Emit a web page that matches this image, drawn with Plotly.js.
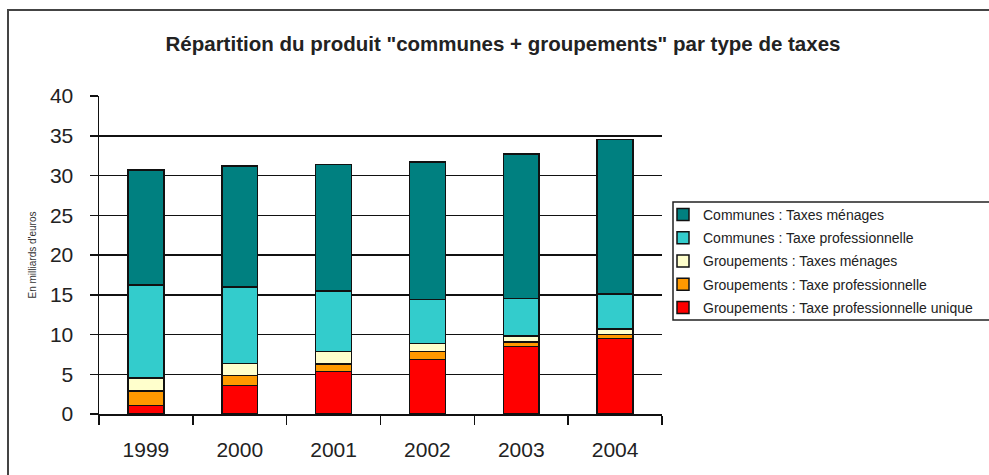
<!DOCTYPE html>
<html>
<head>
<meta charset="utf-8">
<script src="https://cdn.plot.ly/plotly-3.0.1.min.js"></script>
<style>
html,body{margin:0;padding:0;background:#fff;}
#chart{width:989px;height:475px;}
</style>
</head>
<body>
<div id="chart"></div>
<script>
// Years (categories)
var years = ["1999", "2000", "2001", "2002", "2003", "2004"];

// Series values in milliards d'euros (stack order bottom -> top)
var groupTPU = [1.1, 3.6, 5.35, 6.85, 8.5, 9.5];     // Groupements : Taxe professionnelle unique
var groupTP  = [1.8, 1.25, 0.95, 1.0, 0.55, 0.5];    // Groupements : Taxe professionnelle
var groupTM  = [1.65, 1.5, 1.55, 1.0, 0.75, 0.7];    // Groupements : Taxes ménages
var communesTP = [11.65, 9.6, 7.6, 5.55, 4.7, 4.4];  // Communes : Taxe professionnelle
var communesTM = [14.5, 15.25, 15.95, 17.3, 18.2, 19.4]; // Communes : Taxes ménages

var seriesNames = [
  "Groupements : Taxe professionnelle unique",
  "Groupements : Taxe professionnelle",
  "Groupements : Taxes ménages",
  "Communes : Taxe professionnelle",
  "Communes : Taxes ménages"
];
var seriesValues = [groupTPU, groupTP, groupTM, communesTP, communesTM];
var seriesColors = ["#FF0000", "#FF9900", "#FFFFCC", "#33CCCC", "#008080"];

var yTickVals = [0, 5, 10, 15, 20, 25, 30, 35, 40];

var traces = seriesValues.map(function (vals, i) {
  return {
    type: "bar",
    name: seriesNames[i],
    legendgroup: "g" + i,
    legendrank: seriesValues.length - i,
    x: years,
    y: vals,
    marker: { color: seriesColors[i], line: { color: "#111", width: 1.5 } },
    hoverinfo: "x+y+name"
  };
});

var L = 99, R = 662, T = 96, B = 414, W = 989, H = 475;
var pw = R - L, ph = B - T;
function px(x) { return (x - L) / pw; }
function py(y) { return (B - y) / ph; }

var layout = {
  width: W,
  height: H,
  margin: { l: L, r: W - R, t: T, b: H - B, pad: 0, autoexpand: false },
  paper_bgcolor: "#fff",
  plot_bgcolor: "#fff",
  barmode: "stack",
  bargap: 0.617,
  font: { family: "Liberation Sans, Arial, sans-serif", color: "#222" },
  title: {
    text: "Répartition du produit \"communes + groupements\" par type de taxes",
    font: { family: "Liberation Sans, Arial, sans-serif", size: 20.5, weight: "bold", color: "#222" },
    xref: "container", x: 503 / W, xanchor: "center",
    yref: "container", y: 1 - 44 / H, yanchor: "middle"
  },
  xaxis: {
    type: "category",
    showgrid: false,
    showline: true, linecolor: "#111", linewidth: 1.5,
    ticks: "outside", tickson: "boundaries", ticklen: 9, tickwidth: 1.5, tickcolor: "#111",
    tickfont: { size: 21, color: "#222" },
    ticklabelstandoff: 16,
    zeroline: false
  },
  yaxis: {
    range: [0, 40],
    tickvals: yTickVals,
    ticktext: yTickVals.map(String),
    showgrid: true, gridcolor: "#111", gridwidth: 1.5,
    showline: true, linecolor: "#111", linewidth: 1.5,
    ticks: "outside", ticklen: 8, tickwidth: 1.5, tickcolor: "#111",
    tickfont: { size: 21, color: "#222" },
    ticklabelstandoff: 12,
    zeroline: false,
    title: {
      text: "En milliards d'euros",
      font: { size: 10, color: "#333" },
      standoff: 11
    }
  },
  legend: {
    x: px(663), xanchor: "left",
    y: py(199), yanchor: "top",
    traceorder: "grouped",
    tracegroupgap: 2,
    bgcolor: "rgba(0,0,0,0)",
    borderwidth: 0,
    font: { size: 14, color: "#222" }
  },
  shapes: [
    { type: "rect", xref: "paper", yref: "paper",
      x0: px(8), x1: px(1100), y0: py(600), y1: py(10),
      line: { color: "#444", width: 2 }, fillcolor: "rgba(0,0,0,0)", layer: "below" },
    { type: "rect", xref: "paper", yref: "paper",
      x0: px(673), x1: px(1100), y0: py(320), y1: py(202),
      line: { color: "#222", width: 1.5 }, fillcolor: "rgba(0,0,0,0)", layer: "above" }
  ],
  showlegend: true
};

Plotly.newPlot("chart", traces, layout, { displayModeBar: false, staticPlot: true });
</script>
</body>
</html>
